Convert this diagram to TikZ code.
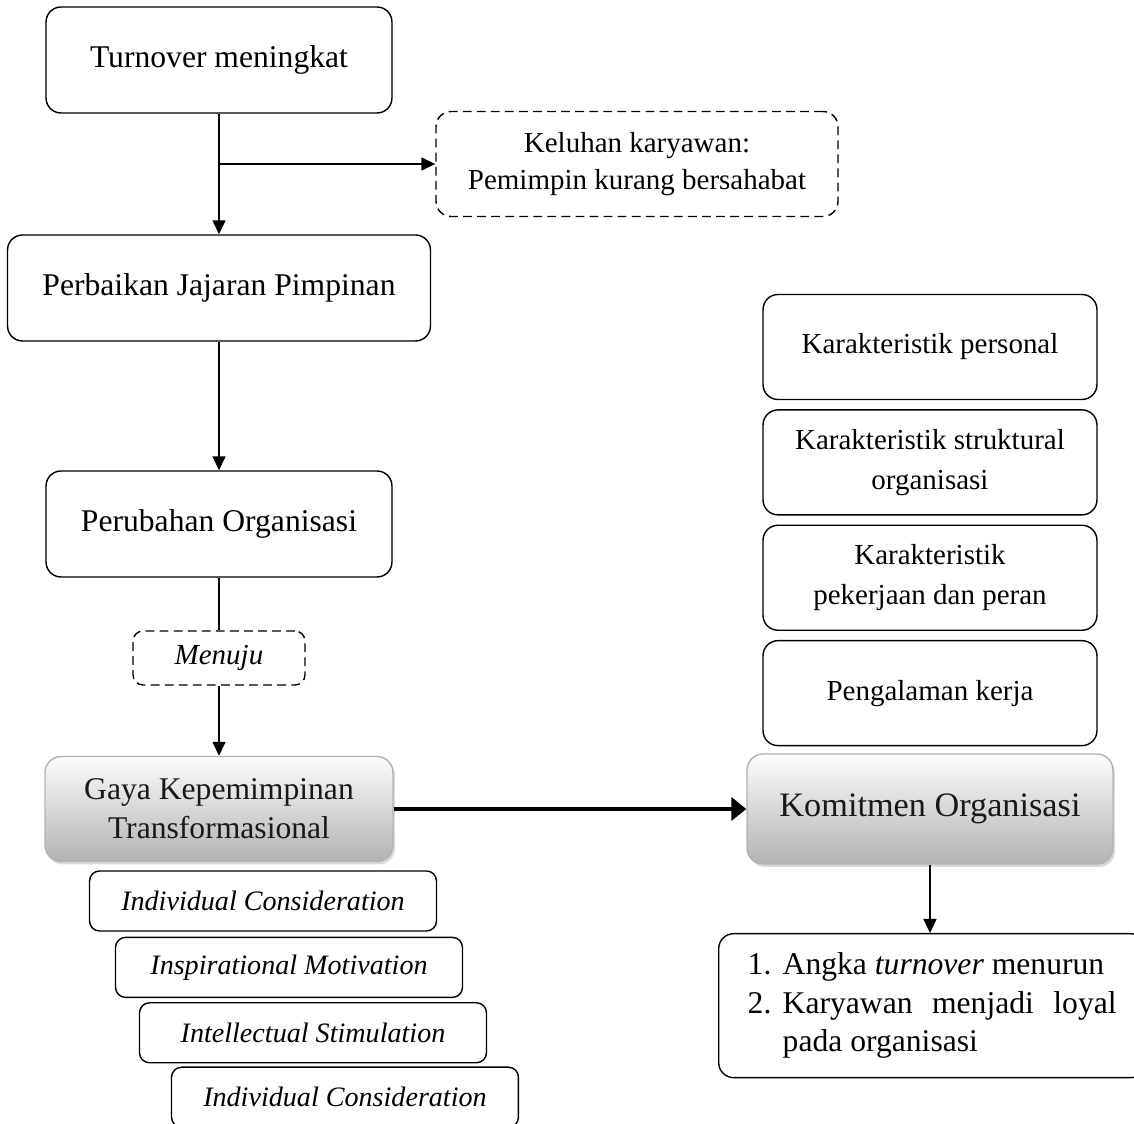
\documentclass[tikz,border=0pt]{standalone}
\usepackage{fontspec}
\setmainfont{Liberation Serif}
\usepackage{tikz}
\usetikzlibrary{arrows.meta, positioning, shadows}

\begin{document}
\begin{tikzpicture}[x=0.02cm, y=-0.02cm, node distance=0.18cm,
    box/.style={rectangle, rounded corners=0.3cm, draw=black, line width=0.8pt,
                minimum height=2.12cm, align=center, text centered,
                font=\fontsize{18}{22}\selectfont},
    dashbox/.style={box, dash pattern=on 5pt off 3pt},
    sidebox/.style={box, minimum width=6.68cm, minimum height=2.1cm,
                    font=\fontsize{16.5}{22.5}\selectfont},
    dimbox/.style={rectangle, rounded corners=0.2cm, draw=black, line width=0.8pt,
                   minimum width=6.94cm, minimum height=1.2cm,
                   font=\fontsize{16}{19}\selectfont\itshape},
    gradbox/.style={rectangle, rounded corners=0.32cm, draw=gray!60, line width=0.8pt,
                    top color=gray!2, bottom color=gray!60, text=black!90,
                    drop shadow={opacity=0.3, shadow xshift=0.04cm, shadow yshift=-0.06cm},
                    align=center, font=\fontsize{18}{22}\selectfont},
    arrow/.style={-{Triangle[length=0.28cm, width=0.26cm]}, line width=0.8pt},
    bigarrow/.style={-{Triangle[length=0.3cm, width=0.46cm]}, line width=2.6pt}
]
\useasboundingbox (0,0) rectangle (1134,1124);
\clip (0,0) rectangle (1134,1124);

% left column
\node (turn)      [box, minimum width=6.92cm] at (219,60)  {Turnover meningkat};
\node (keluhan)   [dashbox, minimum width=8.04cm, minimum height=2.1cm,
                   font=\fontsize{16.5}{21}\selectfont] at (637,164)
                  {Keluhan karyawan:\\Pemimpin kurang bersahabat};
\node (perbaikan) [box, minimum width=8.46cm] at (219,288) {Perbaikan Jajaran Pimpinan};
\node (perubahan) [box, minimum width=6.92cm] at (219,524) {Perubahan Organisasi};
\node (menuju)    [dashbox, rounded corners=0.2cm, minimum width=3.44cm, minimum height=1.08cm,
                   font=\fontsize{16.5}{20}\selectfont\itshape] at (219,658) {Menuju};
\node (gaya)      [gradbox, minimum width=6.96cm, minimum height=2.1cm] at (219,809)
                  {Gaya Kepemimpinan\\Transformasional};

% dimensi
\node (dim1) [dimbox] at (263,901) {Individual Consideration};
\node (dim2) [dimbox, below=0.1cm of dim1, xshift=0.52cm] {Inspirational Motivation};
\node (dim3) [dimbox, below=0.08cm of dim2, xshift=0.48cm] {Intellectual Stimulation};
\node (dim4) [dimbox, below=0.06cm of dim3, xshift=0.64cm] {Individual Consideration};

% right column
\node (kpersonal) [sidebox] at (930,347) {Karakteristik personal};
\node (kstruktur) [sidebox, below=of kpersonal] {Karakteristik struktural\\organisasi};
\node (kpekerjaan)[sidebox, below=of kstruktur] {Karakteristik\\pekerjaan dan peran};
\node (kpengalaman)[sidebox, below=of kpekerjaan] {Pengalaman kerja};
\node (komitmen)  [gradbox, minimum width=7.32cm, minimum height=2.2cm,
                   font=\fontsize{19.5}{23}\selectfont] at (930,809) {Komitmen Organisasi};
\node (hasil)     [box, anchor=north west, align=left, inner xsep=0.58cm,
                   minimum height=2.88cm] at (718,933)
    {\parbox{7.38cm}{\hyphenpenalty=10000 \leftskip=0.7cm \parindent=-0.7cm
     \makebox[0.7cm][l]{1.}Angka \textit{turnover} menurun\par
     \makebox[0.7cm][l]{2.}Karyawan menjadi loyal pada organisasi\par}};

\coordinate (cabang) at (turn.south |- keluhan.west);

\draw [arrow] (turn) -- (perbaikan);
\draw [arrow] (cabang) -- (keluhan.west);
\draw [arrow] (perbaikan) -- (perubahan);
\draw [line width=0.8pt] (perubahan) -- (menuju);
\draw [arrow] (menuju) -- (gaya);
\draw [bigarrow] (gaya.east) -- (gaya.east -| komitmen.west);
\draw [arrow] (komitmen.south) -- (komitmen.south |- hasil.north);
\end{tikzpicture}
\end{document}
